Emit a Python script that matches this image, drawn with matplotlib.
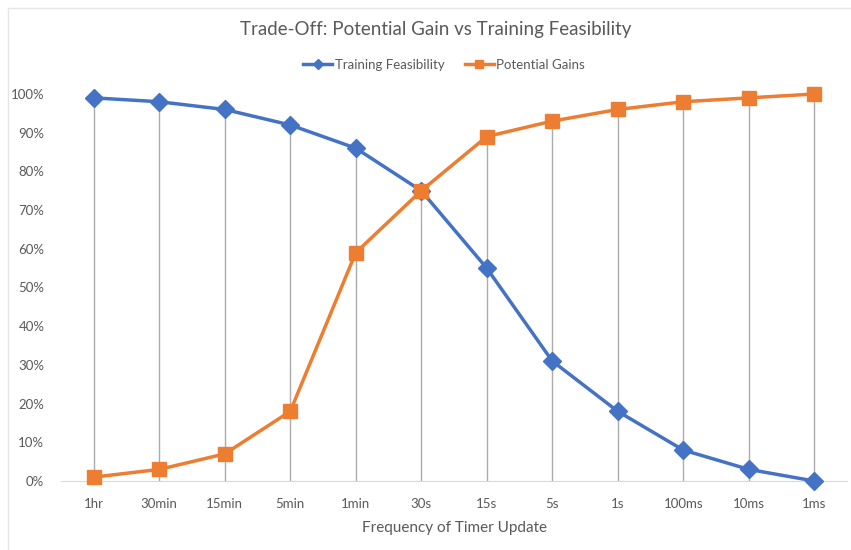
import matplotlib.pyplot as plt
from matplotlib.lines import Line2D
from matplotlib.ticker import PercentFormatter

plt.rcParams['font.family'] = ['Lato', 'DejaVu Sans']

# Data
categories = ["1hr", "30min", "15min", "5min", "1min", "30s",
              "15s", "5s", "1s", "100ms", "10ms", "1ms"]
training_feasibility = [99, 98, 96, 92, 86, 75, 55, 31, 18, 8, 3, 0]
potential_gains = [1, 3, 7, 18, 59, 75, 89, 93, 96, 98, 99, 100]

blue = '#4472C4'
orange = '#ED7D31'
text_grey = '#595959'

fig = plt.figure(figsize=(8.51, 5.5), dpi=100)
ax = fig.add_axes([61 / 851, 69 / 550, 786 / 851, 387 / 550])

x = list(range(len(categories)))

# drop lines from the highest point down to the axis
tops = [max(a, b) for a, b in zip(training_feasibility, potential_gains)]
ax.vlines(x, 0, tops, color='#ABABAB', linewidth=1, zorder=1)

ax.plot(x, training_feasibility, color=blue, linewidth=2.5, marker='D',
        markersize=9, label='Training Feasibility', zorder=3, clip_on=False)
ax.plot(x, potential_gains, color=orange, linewidth=2.5, marker='s',
        markersize=10, label='Potential Gains', zorder=3, clip_on=False)

ax.set_xlim(-0.5, len(categories) - 0.5)
ax.set_ylim(0, 100)
ax.set_yticks(range(0, 101, 10))
ax.yaxis.set_major_formatter(PercentFormatter(decimals=0))
ax.set_xticks(x)
ax.set_xticklabels(categories)

for s in ['top', 'right', 'left']:
    ax.spines[s].set_visible(False)
ax.spines['bottom'].set_color('#D9D9D9')
ax.tick_params(axis='both', length=0, colors=text_grey, labelsize=9.5)
ax.tick_params(axis='x', pad=12)
ax.tick_params(axis='y', pad=12)

ax.set_xlabel('Frequency of Timer Update', fontsize=11, color=text_grey, labelpad=8)

fig.text(0.512, 1 - 30 / 550, 'Trade-Off: Potential Gain vs Training Feasibility',
         ha='center', va='center', fontsize=13.5, color=text_grey)

handles = [
    Line2D([], [], color=blue, linewidth=2.5, marker='D', markersize=5),
    Line2D([], [], color=orange, linewidth=2.5, marker='s', markersize=6),
]
fig.legend(handles, ['Training Feasibility', 'Potential Gains'],
           loc='center', bbox_to_anchor=(0.522, 1 - 65 / 550), ncol=2,
           frameon=False, fontsize=9.5, labelcolor=text_grey,
           handlelength=2.2, handletextpad=0.2, columnspacing=1.5)

# faint frame at top and left of the screenshot
fig.add_artist(Line2D([8 / 851, 1], [1 - 8 / 550, 1 - 8 / 550], color='#E6E6E6', linewidth=1))
fig.add_artist(Line2D([8 / 851, 8 / 851], [0, 1 - 8 / 550], color='#E6E6E6', linewidth=1))

fig.savefig('out.png', dpi=100)
